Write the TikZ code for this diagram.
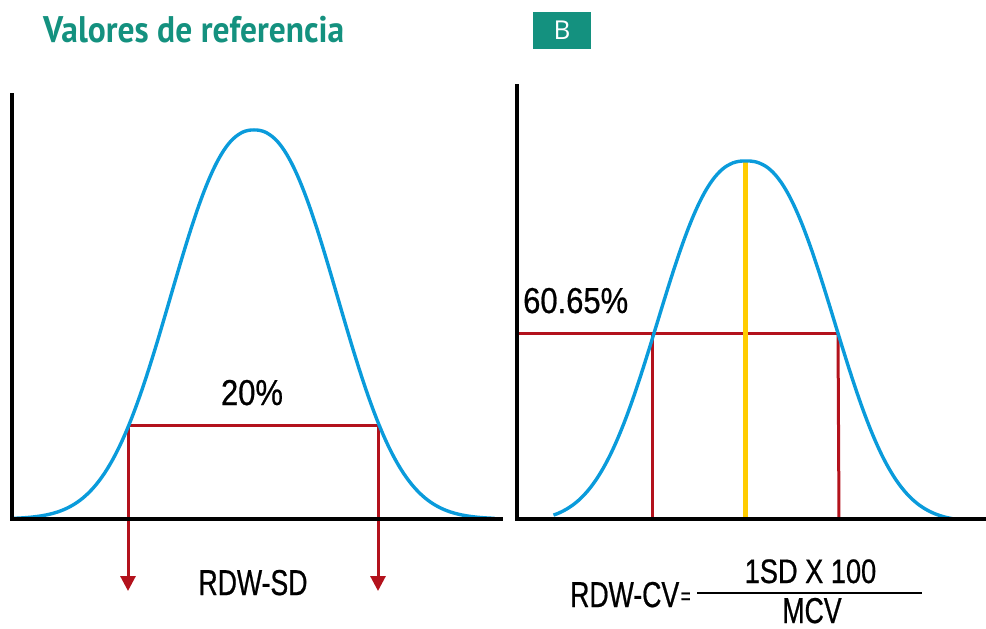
\documentclass[tikz,border=0pt]{standalone}
\usepackage{fontspec}
\usetikzlibrary{arrows.meta}
\newfontfamily\condfont[FakeStretch=0.74,FakeBold=0.6]{Liberation Sans}
\newfontfamily\numfont[FakeStretch=0.86,FakeBold=0.6]{Liberation Sans}
\newfontfamily\mixfont[FakeStretch=0.8,FakeBold=0.6]{Liberation Sans}
\newfontfamily\titlefont[FakeStretch=0.905]{PT Sans}
\newfontfamily\boxfont{Open Sans}
\definecolor{teal1}{HTML}{14917F}
\definecolor{curveblue}{HTML}{0A9BDB}
\definecolor{darkred}{HTML}{B3121C}
\definecolor{gold}{HTML}{FFCC00}
\tikzset{
  axis/.style={line width=3.2pt, black},
  curve/.style={line width=3.4pt, curveblue},
  redline/.style={line width=3pt, darkred},
  redarrow/.style={line width=3pt, darkred, -{Triangle[width=15pt,length=15pt]}},
  yellowline/.style={line width=5pt, gold},
  lbl/.style={inner sep=0pt, font=\condfont\fontsize{36}{40}\selectfont},
  numlbl/.style={inner sep=0pt, font=\numfont\fontsize{36}{40}\selectfont},
  mixlbl/.style={inner sep=0pt, font=\mixfont\fontsize{34}{40}\selectfont},
}
\begin{document}
\begin{tikzpicture}[x=1pt,y=-1pt]
\useasboundingbox (0,0) rectangle (986,629);

% title and B box
\node[inner sep=0pt, anchor=base west, text=teal1, font=\titlefont\bfseries\fontsize{37}{40}\selectfont] (title) at (43,42) {Valores de referencia};
\node[fill=teal1, minimum width=58pt, minimum height=37pt, inner sep=0pt, text=white, font=\boxfont\fontsize{26}{28}\selectfont] (boxB) at (562,30.5) {B};

% ---------- left panel ----------
\coordinate (L0) at (12,93);
\coordinate (Lo) at (12,519);
\coordinate (Lx) at (503,519);
\coordinate (La) at (128,425);
\coordinate (Lb) at (378,425);
\coordinate (Lat) at (128,591);
\coordinate (Lbt) at (378,591);

\draw[redline] (La) -- (Lb);
\draw[redarrow] (La) -- (Lat);
\draw[redarrow] (Lb) -- (Lbt);

\draw[curve] plot[domain=-240.5:240.5, samples=161, smooth]
  ({254+\x}, {519-389*exp(-exp(2.3*ln(abs(\x)/107.4+0.00001)))});

\draw[axis] (L0) -- (Lo) -- (Lx);

\node[numlbl, anchor=base] (p20) at (252,405) {20\%};
\node[lbl, anchor=base] (rdwsd) at (253,595) {RDW-SD};

% ---------- right panel ----------
\coordinate (R0) at (517,84);
\coordinate (Ro) at (517,519);
\coordinate (Rx) at (986,519);
\coordinate (Rh) at (517,333);
\coordinate (Ra) at (652,333);
\coordinate (Rb) at (838,333);
\coordinate (Ra0) at (652,519);
\coordinate (Rb0) at (839,519);
\coordinate (Rtop) at (745,162);
\coordinate (Rbot) at (745,519);

\draw[redline] (Rh) -- (Rb);
\draw[redline] (Ra) -- (Ra0);
\draw[redline] (Rb) -- (Rb0);
\draw[yellowline] (Rtop) -- (Rbot);

\begin{scope}
\clip (517,0) rectangle (986,519);
\draw[curve] plot[domain=-192.5:211.5, samples=161, smooth]
  ({746+\x}, {522-361*exp(-exp(2.45*ln(abs(\x)/109.8+0.00001)))});
\end{scope}

\draw[axis] (R0) -- (Ro) -- (Rx);

\node[numlbl, anchor=base west] (p6065) at (523,313) {60.65\%};

% formula
\node[lbl, anchor=base west] (rdwcv) at (570,607)
  {RDW-CV\kern1.5pt{\fontsize{23}{26}\selectfont\raisebox{3pt}{=}}};
\coordinate (fl) at (697,593);
\coordinate (fr) at (922,593);
\draw[line width=1.8pt, black] (fl) -- (fr);
\node[mixlbl, anchor=base] (num) at (810.5,583) {1SD X 100};
\node[lbl, anchor=base] (den) at (812,623) {MCV};
\end{tikzpicture}
\end{document}
